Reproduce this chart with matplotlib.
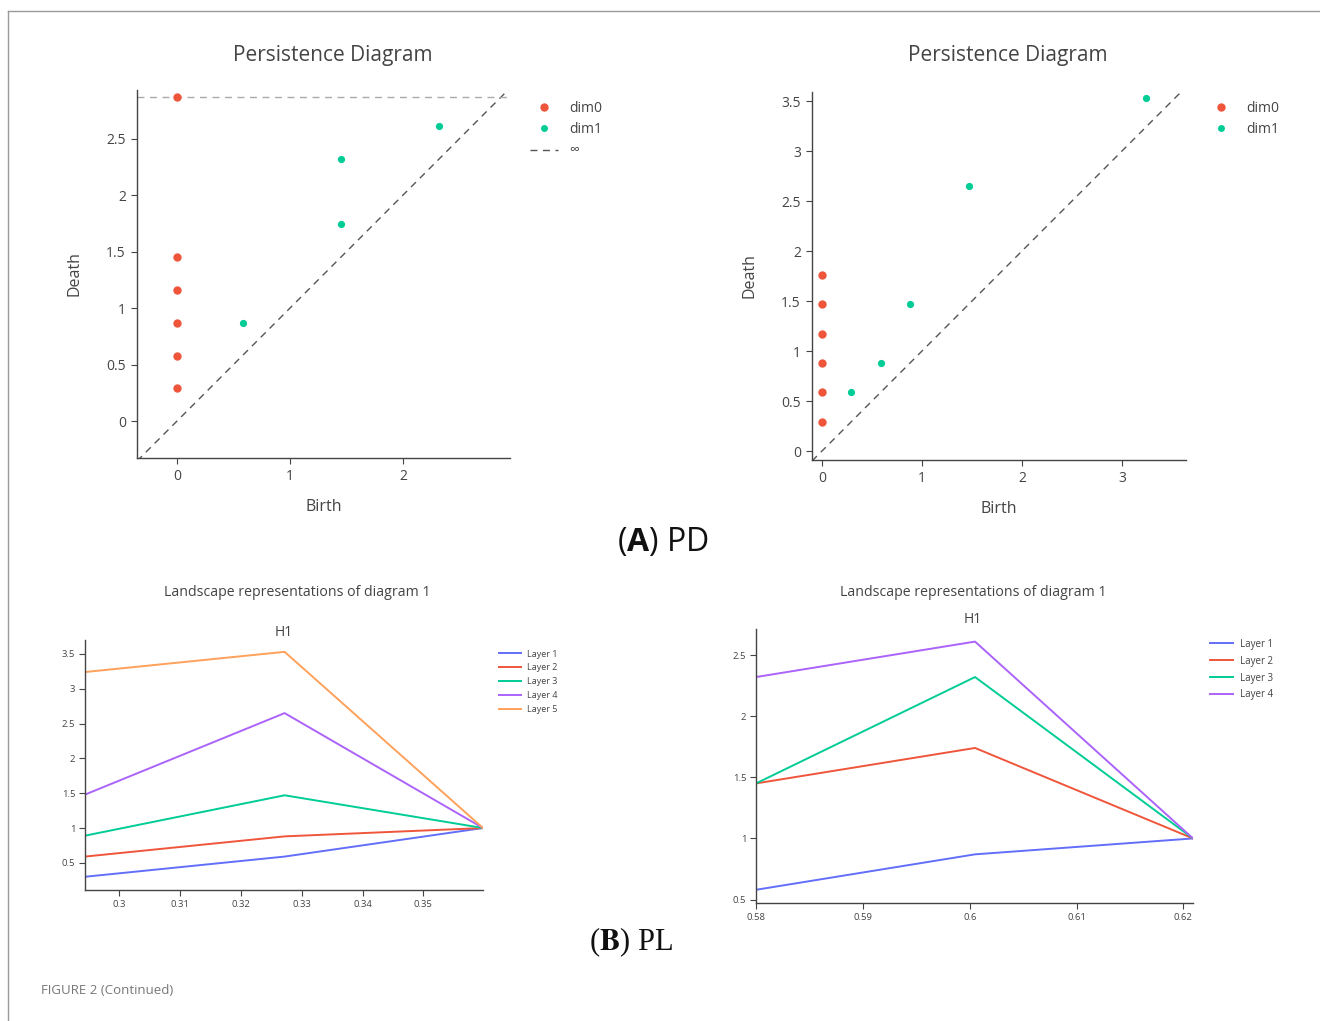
import matplotlib
matplotlib.use('Agg')
import numpy as np
import matplotlib.pyplot as plt
from matplotlib.lines import Line2D
from matplotlib.ticker import FuncFormatter


# Persistence diagram, left
pd1_dim0_birth = [0, 0, 0, 0, 0, 0]
pd1_dim0_death = [2.87, 1.45, 1.16, 0.87, 0.58, 0.29]
pd1_dim1_birth = [0.58, 1.45, 1.45, 2.32]
pd1_dim1_death = [0.87, 1.74, 2.32, 2.61]
pd1_inf = 2.87

# Persistence diagram, right
pd2_dim0_birth = [0, 0, 0, 0, 0, 0]
pd2_dim0_death = [1.76, 1.47, 1.17, 0.88, 0.59, 0.29]
pd2_dim1_birth = [0.29, 0.59, 0.88, 1.47, 3.24]
pd2_dim1_death = [0.59, 0.88, 1.47, 2.65, 3.53]

# Landscapes
pl1_x = [0.2944, 0.3272, 0.3598]
pl1_layers = [
    [0.30, 0.59, 1.0],
    [0.59, 0.88, 1.0],
    [0.89, 1.47, 1.0],
    [1.48, 2.65, 1.0],
    [3.24, 3.53, 1.0],
]
pl2_x = [0.58, 0.6005, 0.6209]
pl2_layers = [
    [0.58, 0.87, 1.0],
    [1.45, 1.74, 1.0],
    [1.45, 2.32, 1.0],
    [2.32, 2.61, 1.0],
]
layer_names = ['Layer 1', 'Layer 2', 'Layer 3', 'Layer 4', 'Layer 5']

kColors = ['#636EFA', '#EF553B', '#00CC96', '#AB63FA', '#FFA15A']
kText = '#444444'

W, H = 1320, 1021
plt.rcParams['font.family'] = ['Open Sans', 'DejaVu Sans']
plt.rcParams['mathtext.fontset'] = 'custom'
plt.rcParams['mathtext.rm'] = 'Open Sans'
plt.rcParams['mathtext.bf'] = 'Open Sans:bold'
fig = plt.figure(figsize=(W / 100, H / 100), dpi=100)


def px_axes(left, top, right, bottom):
    return fig.add_axes([left / W, 1 - bottom / H, (right - left) / W, (bottom - top) / H])


def fx(x):
    return x / W


def fy(y):
    return 1 - y / H


def style_axes(ax, fs, pad=2):
    for s in ['top', 'right']:
        ax.spines[s].set_visible(False)
    for s in ['left', 'bottom']:
        ax.spines[s].set_color(kText)
        ax.spines[s].set_linewidth(1.0)
    ax.tick_params(colors=kText, labelsize=fs, length=4, width=0.8, pad=pad)
    ax.xaxis.set_major_formatter(FuncFormatter(lambda v, p: f'{v:g}'))
    ax.yaxis.set_major_formatter(FuncFormatter(lambda v, p: f'{v:g}'))


def persistence(ax, b0, d0, b1, d1, xlim, ylim, xticks, yticks, inf=None):
    lo, hi = min(xlim[0], ylim[0]), max(xlim[1], ylim[1])
    ax.plot([lo, hi], [lo, hi], color='#555555', lw=1.0, dashes=(5, 4), zorder=1)
    if inf is not None:
        ax.plot(xlim, [inf, inf], color='#aaaaaa', lw=1.0, dashes=(5, 4), zorder=1)
    ax.scatter(b0, d0, s=36, color=kColors[1], zorder=3, linewidths=0)
    ax.scatter(b1, d1, s=27, color=kColors[2], zorder=3, linewidths=0)
    ax.set_xlim(xlim)
    ax.set_ylim(ylim)
    ax.set_xticks(xticks)
    ax.set_yticks(yticks)
    style_axes(ax, 10, pad=4)
    ax.set_xlabel('Birth', color=kText, fontsize=11.5, labelpad=11)
    ax.set_ylabel('Death', color=kText, fontsize=11.5, labelpad=17)


# (A) PD left
ax1 = px_axes(137, 90, 510, 458)
persistence(ax1, pd1_dim0_birth, pd1_dim0_death, pd1_dim1_birth, pd1_dim1_death,
            (-0.354, 2.947), (-0.327, 2.93), [0, 1, 2], [0, 0.5, 1, 1.5, 2, 2.5], inf=pd1_inf)
h1 = [Line2D([], [], ls='', marker='o', ms=6, color=kColors[1], mew=0),
      Line2D([], [], ls='', marker='o', ms=5, color=kColors[2], mew=0),
      Line2D([], [], color='#555555', lw=1.0, dashes=(5, 4))]
fig.legend(h1, ['dim0', 'dim1', '∞'], loc='upper left', bbox_to_anchor=(fx(523), fy(94)),
           frameon=False, fontsize=10, handlelength=2, handletextpad=0.8, labelspacing=0.45,
           borderpad=0, labelcolor=kText)
fig.text(fx(333), fy(55), 'Persistence Diagram', ha='center', va='center', fontsize=15, color=kText)

# (A) PD right
ax2 = px_axes(812, 92, 1186, 460)
persistence(ax2, pd2_dim0_birth, pd2_dim0_death, pd2_dim1_birth, pd2_dim1_death,
            (-0.1, 3.64), (-0.09, 3.59), [0, 1, 2, 3], [0, 0.5, 1, 1.5, 2, 2.5, 3, 3.5])
fig.legend(h1[:2], ['dim0', 'dim1'], loc='upper left', bbox_to_anchor=(fx(1200), fy(94)),
           frameon=False, fontsize=10, handlelength=2, handletextpad=0.8, labelspacing=0.45,
           borderpad=0, labelcolor=kText)
fig.text(fx(1008), fy(55), 'Persistence Diagram', ha='center', va='center', fontsize=15, color=kText)

fig.text(fx(663), fy(543), r'($\mathbf{A}$) PD', ha='center', va='center', fontsize=23, color='#111111')


def landscape(ax, xs, layers, xlim, ylim, xticks, yticks):
    for i, vals in enumerate(layers):
        ax.plot(xs, vals, color=kColors[i], lw=1.4, label=layer_names[i])
    ax.set_xlim(xlim)
    ax.set_ylim(ylim)
    ax.set_xticks(xticks)
    ax.set_yticks(yticks)
    style_axes(ax, 6.8, pad=3)


# (B) PL left
ax3 = px_axes(85, 640, 483, 890)
landscape(ax3, pl1_x, pl1_layers, (pl1_x[0], pl1_x[-1]), (0.11, 3.70),
          [0.30, 0.31, 0.32, 0.33, 0.34, 0.35], [0.5, 1, 1.5, 2, 2.5, 3, 3.5])
hd, lb = ax3.get_legend_handles_labels()
fig.legend(hd, lb, loc='upper left', bbox_to_anchor=(fx(494), fy(645)), frameon=False,
           fontsize=6.5, handlelength=2.45, handletextpad=0.65, labelspacing=0.55,
           borderpad=0, labelcolor=kText)
fig.text(fx(297), fy(592), 'Landscape representations of diagram 1', ha='center', va='center',
         fontsize=10.2, color=kText)
fig.text(fx(284), fy(632), 'H1', ha='center', va='center', fontsize=10, color=kText)

# (B) PL right
ax4 = px_axes(756, 629, 1193, 903)
landscape(ax4, pl2_x, pl2_layers, (pl2_x[0], pl2_x[-1]), (0.472, 2.713),
          [0.58, 0.59, 0.60, 0.61, 0.62], [0.5, 1, 1.5, 2, 2.5])
hd, lb = ax4.get_legend_handles_labels()
fig.legend(hd, lb, loc='upper left', bbox_to_anchor=(fx(1205), fy(634)), frameon=False,
           fontsize=7, handlelength=2.4, handletextpad=0.7, labelspacing=0.6,
           borderpad=0, labelcolor=kText)
fig.text(fx(973), fy(593), 'Landscape representations of diagram 1', ha='center', va='center',
         fontsize=10.2, color=kText)
fig.text(fx(973), fy(619), 'H1', ha='center', va='center', fontsize=10, color=kText)

fig.text(fx(631), fy(942), r'($\mathbf{B}$) PL', ha='center', va='center', fontsize=22,
         color='#111111', family='Liberation Serif', math_fontfamily='stix')

fig.text(fx(41), fy(990), 'FIGURE 2 (Continued)', ha='left', va='center', fontsize=9.5,
         color='#777777')

# page frame
fig.add_artist(Line2D([fx(8), 1], [fy(11), fy(11)], color='#999999', lw=1.0))
fig.add_artist(Line2D([fx(8), fx(8)], [fy(11), 0], color='#999999', lw=1.0))

fig.savefig('out.png', dpi=100)
